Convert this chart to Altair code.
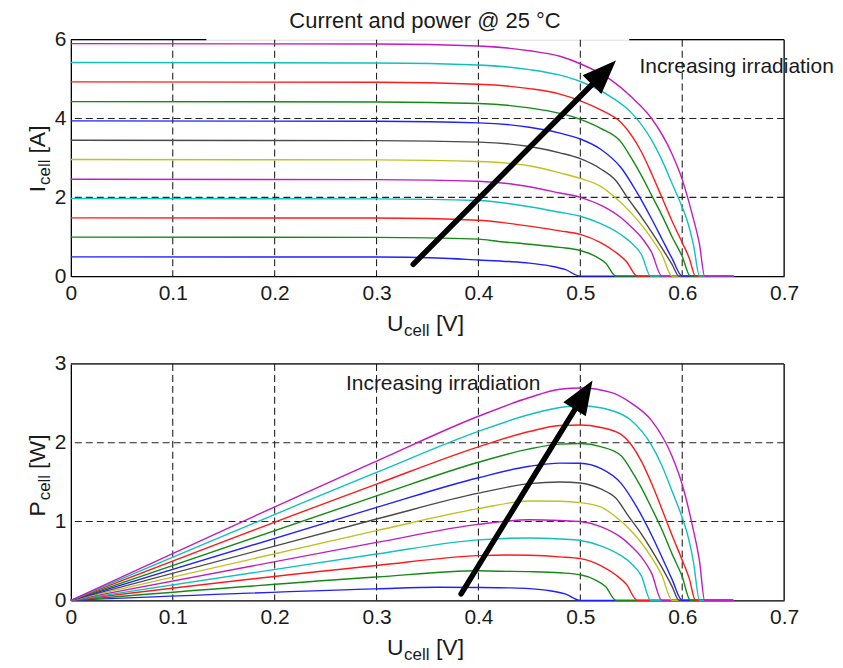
import altair as alt
import pandas as pd

FONT = "Liberation Sans"
TXT = "#1a1a1a"

# ---------------- axes / grid values ----------------
x_ticks = [0, 0.1, 0.2, 0.3, 0.4, 0.5, 0.6, 0.7]
x_grid = [0.1, 0.2, 0.3, 0.4, 0.5, 0.6]
i_ticks = [0, 2, 4, 6]
i_grid = [2, 4]
p_ticks = [0, 1, 2, 3]
p_grid = [1, 2]

curve_ids = ["G01", "G02", "G03", "G04", "G05", "G06",
             "G07", "G08", "G09", "G10", "G11", "G12"]
curve_colors = ["#1f1fff", "#138a13", "#ff1a1a", "#10c0c0", "#c21bc2", "#c0c020",
                "#4a4a4a", "#1f1fff", "#138a13", "#ff1a1a", "#10c0c0", "#c21bc2"]

# ---------------- curves ----------------
# u = cell voltage [V], i = cell current [A] (top panel), p = cell power [W] (bottom panel)
u_01 = [0, .30, .36, .40, .43, .45, .47, .485, .50, .65]
i_01 = [.49, .485, .46, .41, .37, .33, .26, .17, 0, 0]
p_01 = [0, .146, .166, .164, .159, .149, .122, .082, 0, 0]

u_02 = [0, .30, .40, .42, .45, .48, .50, .515, .525, .535, .65]
i_02 = [.99, .985, .94, .88, .81, .73, .65, .50, .33, 0, 0]
p_02 = [0, .296, .376, .370, .365, .350, .325, .258, .173, 0, 0]

u_03 = [0, .30, .40, .43, .45, .48, .50, .52, .535, .545, .556, .65]
i_03 = [1.48, 1.475, 1.42, 1.34, 1.27, 1.15, 1.06, .85, .60, .38, 0, 0]
p_03 = [0, .443, .568, .576, .572, .552, .530, .442, .321, .207, 0, 0]

u_04 = [0, .30, .40, .45, .48, .50, .52, .54, .55, .56, .569, .65]
i_04 = [1.97, 1.96, 1.92, 1.76, 1.62, 1.52, 1.33, 1.05, .85, .55, 0, 0]
p_04 = [0, .588, .768, .792, .778, .760, .692, .567, .468, .308, 0, 0]

u_05 = [0, .30, .40, .45, .48, .50, .52, .54, .55, .56, .57, .58, .65]
i_05 = [2.46, 2.45, 2.41, 2.27, 2.11, 2.00, 1.80, 1.48, 1.25, .98, .60, 0, 0]
p_05 = [0, .735, .964, 1.022, 1.013, 1.000, .936, .799, .688, .549, .342, 0, 0]

u_06 = [0, .30, .40, .45, .48, .50, .52, .534, .55, .56, .57, .58, .59, .65]
i_06 = [2.96, 2.95, 2.91, 2.80, 2.62, 2.48, 2.28, 2.00, 1.60, 1.30, .95, .55, 0, 0]
p_06 = [0, .885, 1.164, 1.260, 1.258, 1.240, 1.186, 1.068, .880, .728, .542, .319, 0, 0]

u_07 = [0, .30, .40, .45, .48, .50, .52, .535, .546, .56, .57, .58, .59, .597, .65]
i_07 = [3.45, 3.44, 3.40, 3.29, 3.13, 2.98, 2.72, 2.42, 2.00, 1.50, 1.12, .72, .30, 0, 0]
p_07 = [0, 1.032, 1.360, 1.481, 1.502, 1.490, 1.414, 1.295, 1.092, .840, .638, .418, .177, 0, 0]

u_08 = [0, .30, .40, .45, .48, .50, .52, .54, .555, .57, .58, .59, .60, .65]
i_08 = [3.94, 3.93, 3.89, 3.78, 3.63, 3.48, 3.22, 2.75, 2.15, 1.45, .95, .45, 0, 0]
p_08 = [0, 1.179, 1.556, 1.701, 1.742, 1.740, 1.674, 1.485, 1.193, .827, .551, .266, 0, 0]

u_09 = [0, .30, .40, .45, .48, .50, .52, .54, .55, .56, .57, .58, .59, .60, .608, .65]
i_09 = [4.43, 4.42, 4.38, 4.27, 4.13, 3.98, 3.75, 3.40, 3.00, 2.55, 2.05, 1.55, 1.00, .50, 0, 0]
p_09 = [0, 1.326, 1.752, 1.922, 1.982, 1.990, 1.950, 1.836, 1.650, 1.428, 1.169, .899, .590, .300, 0, 0]

u_10 = [0, .30, .40, .45, .48, .50, .52, .54, .56, .57, .58, .59, .60, .607, .613, .65]
i_10 = [4.93, 4.92, 4.87, 4.76, 4.62, 4.45, 4.22, 3.90, 3.15, 2.60, 2.00, 1.40, .85, .45, 0, 0]
p_10 = [0, 1.476, 1.948, 2.142, 2.218, 2.225, 2.194, 2.106, 1.764, 1.482, 1.160, .826, .510, .273, 0, 0]

u_11 = [0, .30, .40, .45, .48, .50, .53, .55, .57, .58, .59, .60, .605, .611, .617, .65]
i_11 = [5.42, 5.41, 5.36, 5.24, 5.10, 4.94, 4.55, 4.15, 3.45, 2.95, 2.35, 1.75, 1.40, .80, 0, 0]
p_11 = [0, 1.623, 2.144, 2.358, 2.448, 2.470, 2.412, 2.283, 1.967, 1.711, 1.387, 1.050, .847, .489, 0, 0]

u_12 = [0, .30, .40, .45, .48, .50, .53, .55, .57, .59, .60, .61, .617, .622, .65]
i_12 = [5.90, 5.89, 5.84, 5.72, 5.58, 5.39, 4.98, 4.55, 4.00, 3.10, 2.45, 1.55, .80, 0, 0]
p_12 = [0, 1.767, 2.336, 2.574, 2.678, 2.695, 2.639, 2.503, 2.280, 1.829, 1.470, .946, .494, 0, 0]

U_LISTS = [u_01, u_02, u_03, u_04, u_05, u_06, u_07, u_08, u_09, u_10, u_11, u_12]
I_LISTS = [i_01, i_02, i_03, i_04, i_05, i_06, i_07, i_08, i_09, i_10, i_11, i_12]
P_LISTS = [p_01, p_02, p_03, p_04, p_05, p_06, p_07, p_08, p_09, p_10, p_11, p_12]

# annotation anchors (data coordinates)
top_arrow = {"u": 0.336, "v": 0.30, "u2": 0.521, "v2": 5.11, "tu": 0.535, "tv": 5.47, "ang": 45}
bot_arrow = {"u": 0.383, "v": 0.083, "u2": 0.502, "v2": 2.575, "tu": 0.512, "tv": 2.79, "ang": 32}
top_label = {"u": 0.558, "v": 5.16, "t": "Increasing irradiation"}
bot_label = {"u": 0.270, "v": 2.67, "t": "Increasing irradiation"}
top_border_segments = [[0, 0.133], [0.548, 0.7]]


def long_table(vals):
    rows = []
    for cid, us, vs in zip(curve_ids, U_LISTS, vals):
        for k, (u, v) in enumerate(zip(us, vs)):
            rows.append({"curve": cid, "u": u, "v": v, "k": k})
    return pd.DataFrame(rows)


df_iv = long_table(I_LISTS)
df_pv = long_table(P_LISTS)

W, H = 715, 237
xs = alt.Scale(domain=[0, 0.7], nice=False, zero=False)

ONE = pd.DataFrame({"z": [0]})

head_path = "M0,0L0.78,2L-0.78,2Z"


def panel(df, ys, yticks, ygrid, arrow, label, ylab_main, yunit, top_gap):
    xaxis = alt.Axis(values=x_ticks, format=".1~f", title=None, grid=False, ticks=False,
                     domainColor="black", domainWidth=1.3, labelFont=FONT, labelFontSize=21,
                     labelColor=TXT, labelPadding=6, labelFlush=False, labelOverlap=False)
    yaxis = alt.Axis(values=yticks, format="d", title=None, grid=False, ticks=False,
                     domainColor="black", domainWidth=1.3, labelFont=FONT, labelFontSize=21,
                     labelColor=TXT, labelPadding=5, labelFlush=False, labelOverlap=False)

    def X(f):
        return alt.X(f, scale=xs, axis=xaxis)

    def Y(f):
        return alt.Y(f, scale=ys, axis=yaxis)

    gx = alt.Chart(pd.DataFrame({"g": x_grid})).mark_rule(
        color="#222", strokeDash=[7, 4], strokeWidth=1.1
    ).encode(x=X("g:Q"))
    gy = alt.Chart(pd.DataFrame({"g": ygrid})).mark_rule(
        color="#222", strokeDash=[7, 4], strokeWidth=1.1
    ).encode(y=Y("g:Q"))

    lines = alt.Chart(df).mark_line(strokeWidth=1.4, interpolate="monotone").encode(
        x=X("u:Q"),
        y=Y("v:Q"),
        color=alt.Color("curve:N", scale=alt.Scale(domain=curve_ids, range=curve_colors), legend=None),
        detail="curve:N",
        order="k:Q",
    )

    right = alt.Chart(pd.DataFrame({"g": [x_ticks[-1]]})).mark_rule(
        color="black", strokeWidth=1.3
    ).encode(x=X("g:Q"))

    if top_gap:
        segs = pd.DataFrame({"a": [s[0] for s in top_border_segments],
                             "b": [s[1] for s in top_border_segments],
                             "t": [yticks[-1]] * len(top_border_segments)})
    else:
        segs = pd.DataFrame({"a": [x_ticks[0]], "b": [x_ticks[-1]], "t": [yticks[-1]]})
    top = alt.Chart(segs).mark_rule(color="black", strokeWidth=1.3).encode(
        x=X("a:Q"), x2="b:Q", y=Y("t:Q"))

    adf = pd.DataFrame([arrow])
    shaft = alt.Chart(adf).mark_rule(color="black", strokeWidth=5.5, strokeCap="round").encode(
        x=X("u:Q"), y=Y("v:Q"), x2="u2:Q", y2="v2:Q")
    head = alt.Chart(adf).mark_point(
        shape=head_path, filled=True, size=1156, color="black", opacity=1, angle=arrow["ang"]
    ).encode(x=X("tu:Q"), y=Y("tv:Q"))

    lab = alt.Chart(pd.DataFrame([label])).mark_text(
        align="left", baseline="alphabetic", font=FONT, fontSize=21, color=TXT
    ).encode(x=X("u:Q"), y=Y("v:Q"), text="t:N")

    # axis titles with subscripts
    def txt(s, x, y, size, angle=0):
        kw = dict(align="left", baseline="alphabetic", font=FONT, fontSize=size, color=TXT, text=s)
        if angle:
            kw["angle"] = angle
        return alt.Chart(ONE).mark_text(**kw).encode(x=alt.value(x), y=alt.value(y))

    xt = [txt("U", 317, 292, 23), txt("cell", 334, 297, 17), txt("[V]", 366, 292, 23)]
    main_w = {"I": 6.4, "P": 15.3}[ylab_main]
    y0 = 153
    yt = [txt(ylab_main, -26, y0, 23, 270),
          txt("cell", -21, y0 - main_w - 1, 17, 270),
          txt(yunit, -26, y0 - main_w - 1 - 25.5 - 6, 23, 270)]

    layers = [gx, gy, lines, right, top, shaft, head, lab] + xt + yt
    return alt.layer(*layers).properties(width=W, height=H)


ys_i = alt.Scale(domain=[0, 6], nice=False, zero=True)
ys_p = alt.Scale(domain=[0, 3], nice=False, zero=True)

top_panel = panel(df_iv, ys_i, i_ticks, i_grid, top_arrow, top_label, "I", "[A]", True)
title = alt.Chart(ONE).mark_text(
    text="Current and power @ 25 °C", align="center", baseline="alphabetic",
    font=FONT, fontSize=22, color=TXT
).encode(x=alt.value(355), y=alt.value(-12))
top_panel = alt.layer(top_panel, title)

bottom_panel = panel(df_pv, ys_p, p_ticks, p_grid, bot_arrow, bot_label, "P", "[W]", False)

chart = alt.vconcat(top_panel, bottom_panel, spacing=88, bounds="flush").properties(
    padding={"left": 18, "top": 0, "right": 0, "bottom": 0}
).configure_view(stroke=None).configure(background="white")

chart.save("out.html", embed_options={"renderer": "svg", "actions": False})
